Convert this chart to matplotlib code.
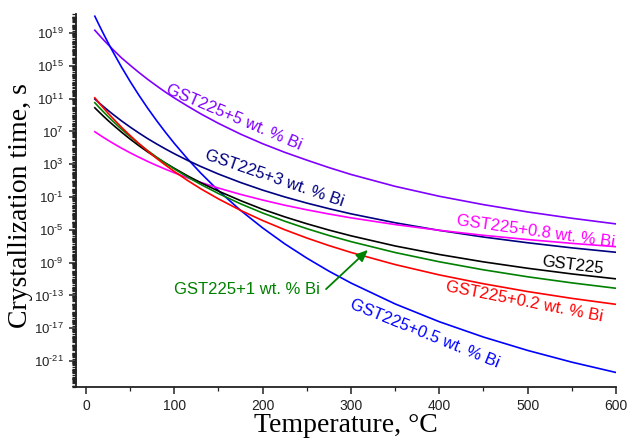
import numpy as np
import matplotlib
matplotlib.use("Agg")
import matplotlib.pyplot as plt
from matplotlib.patches import FancyArrowPatch
from matplotlib.ticker import FixedLocator, FuncFormatter, MultipleLocator, NullFormatter

# Temperatures (deg C) at which crystallization times were evaluated
temperature = [10, 15, 20, 25, 30, 40, 50, 60, 70, 80, 90, 100, 115, 130, 150,
               175, 200, 225, 250, 275, 300, 350, 400, 450, 500, 550, 600]

# log10 of crystallization time (s) for each composition
log_t_gst225 = [9.88, 9.35, 8.83, 8.33, 7.85, 6.93, 6.06, 5.25, 4.49, 3.80, 3.14, 2.50, 1.58, 0.74,
                -0.28, -1.44, -2.50, -3.42, -4.26, -5.03, -5.73, -6.97, -8.01, -8.91, -9.69, -10.38, -10.98]
log_t_bi02 = [11.10, 10.45, 9.83, 9.22, 8.64, 7.53, 6.49, 5.51, 4.58, 3.71, 2.89, 2.11, 1.02, 0.00,
              -1.23, -2.63, -3.87, -4.99, -6.00, -6.92, -7.76, -9.24, -10.50, -11.58, -12.53, -13.36, -14.09]
log_t_bi05 = [21.05, 19.94, 18.86, 17.82, 16.81, 14.89, 13.09, 11.40, 9.81, 8.31, 6.89, 5.54, 3.65, 1.91,
              -0.23, -2.63, -4.77, -6.71, -8.45, -10.04, -11.49, -14.04, -16.21, -18.08, -19.71, -21.14, -22.40]
log_t_bi08 = [6.96, 6.60, 6.25, 5.92, 5.59, 4.97, 4.39, 3.85, 3.33, 2.85, 2.39, 1.95, 1.35, 0.78,
              0.09, -0.68, -1.37, -2.00, -2.56, -3.07, -3.54, -4.36, -5.06, -5.67, -6.19, -6.65, -7.06]
log_t_bi1 = [10.50, 9.92, 9.36, 8.82, 8.29, 7.29, 6.36, 5.48, 4.65, 3.86, 3.12, 2.42, 1.44, 0.53,
             -0.58, -1.83, -2.95, -3.95, -4.86, -5.69, -6.44, -7.77, -8.90, -9.88, -10.73, -11.47, -12.13]
log_t_bi3 = [10.95, 10.47, 10.01, 9.56, 9.13, 8.30, 7.53, 6.80, 6.11, 5.47, 4.86, 4.28, 3.47, 2.72,
             1.80, 0.77, -0.16, -0.99, -1.74, -2.42, -3.05, -4.14, -5.07, -5.88, -6.58, -7.20, -7.74]
log_t_bi5 = [19.34, 18.74, 18.15, 17.59, 17.04, 15.99, 15.07, 14.18, 13.34, 12.55, 11.79, 11.08, 10.09, 9.14,
             7.98, 6.67, 5.50, 4.45, 3.50, 2.59, 1.75, 0.30, -0.91, -1.93, -2.82, -3.59, -4.28]

series = [
    ("GST225+5 wt. % Bi", log_t_bi5, "#8000FF"),
    ("GST225+0.5 wt. % Bi", log_t_bi05, "#0000FF"),
    ("GST225+3 wt. % Bi", log_t_bi3, "#000080"),
    ("GST225+0.8 wt. % Bi", log_t_bi08, "#FF00FF"),
    ("GST225", log_t_gst225, "#000000"),
    ("GST225+1 wt. % Bi", log_t_bi1, "#008000"),
    ("GST225+0.2 wt. % Bi", log_t_bi02, "#FF0000"),
]

x_ticks = [0, 100, 200, 300, 400, 500, 600]
y_label_exponents = [19, 15, 11, 7, 3, -1, -5, -9, -13, -17, -21]

plt.rcParams["mathtext.fontset"] = "custom"
plt.rcParams["mathtext.rm"] = "Liberation Sans"
plt.rcParams["mathtext.it"] = "Liberation Sans:italic"

W, H = 629, 441
fig = plt.figure(figsize=(W / 100, H / 100), dpi=100)
ax = fig.add_axes([76 / W, 1 - 387 / H, (616 - 76) / W, (387 - 14) / H])

for name, logs, color in series:
    ax.plot(temperature, 10.0 ** np.array(logs), color=color, lw=1.2)

ax.set_yscale("log")
ax.set_xlim(-11.3, 600)
ax.set_ylim(10 ** -24.17, 10 ** 21.32)

for side in ("top", "right"):
    ax.spines[side].set_visible(False)
for side in ("left", "bottom"):
    ax.spines[side].set_linewidth(1.3)
    ax.spines[side].set_color("#222222")

ax.xaxis.set_major_locator(FixedLocator(x_ticks))
ax.xaxis.set_minor_locator(MultipleLocator(50))

major_y = [10.0 ** e for e in y_label_exponents]
minor_y = []
for e in range(-25, 23):
    for m in range(1, 10):
        if not (m == 1 and e in y_label_exponents):
            minor_y.append(m * 10.0 ** e)
ax.yaxis.set_major_locator(FixedLocator(major_y))
ax.yaxis.set_minor_locator(FixedLocator(minor_y))


def power_label(v, pos):
    e = int(round(np.log10(v)))
    if e < 0:
        return r"$\mathregular{10^{\text{-}%d}}$" % (-e)
    return r"$\mathregular{10^{%d}}$" % e


ax.yaxis.set_major_formatter(FuncFormatter(power_label))
ax.yaxis.set_minor_formatter(NullFormatter())
ax.xaxis.set_minor_formatter(NullFormatter())

ax.tick_params(axis="both", which="major", direction="out", length=5, width=1.1,
               color="#222222", labelcolor="#222222")
ax.tick_params(axis="x", which="major", labelsize=10)
ax.tick_params(axis="y", which="major", labelsize=9.5, pad=4)
ax.tick_params(axis="both", which="minor", direction="out", length=3, width=0.9,
               color="#222222")
for lab in ax.get_xticklabels() + ax.get_yticklabels():
    lab.set_fontfamily("Liberation Sans")

fig.text(346 / W, 1 - 432 / H, "Temperature, \u00b0C", fontfamily="Liberation Serif",
         fontsize=20, ha="center", va="baseline")
fig.text(21 / W, 1 - 206 / H, "Crystallization time, s", fontfamily="Liberation Serif",
         fontsize=20, rotation=90, ha="center", va="center")


def label(text, px, py, rot, color):
    fig.text(px / W, 1 - py / H, text, color=color, fontsize=12,
             fontfamily="Liberation Sans", rotation=rot, rotation_mode="anchor",
             ha="center", va="center")


label("GST225+5 wt. % Bi", 234, 117, -23, "#8000FF")
label("GST225+3 wt. % Bi", 274, 178, -19, "#000080")
label("GST225+0.8 wt. % Bi", 536, 232, -8, "#FF00FF")
label("GST225", 573, 265, -7, "#000000")
label("GST225+0.2 wt. % Bi", 524, 302, -11, "#FF0000")
label("GST225+0.5 wt. % Bi", 425, 334, -22, "#0000FF")
label("GST225+1 wt. % Bi", 247, 290, 0, "#008000")

fig.patches.append(FancyArrowPatch(
    (324 / W, 1 - 291 / H), (370 / W, 1 - 248 / H), transform=fig.transFigure,
    arrowstyle="-|>,head_length=7,head_width=3", color="#008000", lw=1.3,
    mutation_scale=1))

fig.savefig("out.png", dpi=100)
